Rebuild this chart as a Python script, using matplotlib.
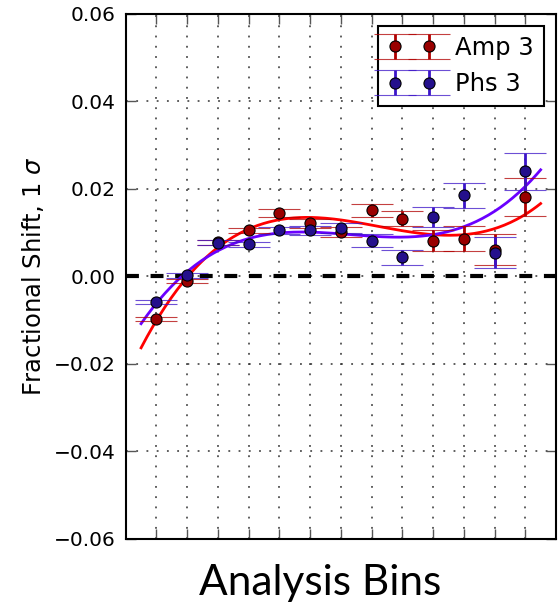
import numpy as np
import matplotlib
matplotlib.use('Agg')
import matplotlib.pyplot as plt

bins = np.arange(13)
amp3 = [-0.0098, -0.0011, 0.0078, 0.0105, 0.0145, 0.0121, 0.0101, 0.0151, 0.0132, 0.0082, 0.0086, 0.0061, 0.0181]
phs3 = [-0.0059, 0.0002, 0.0077, 0.0073, 0.0105, 0.0105, 0.0110, 0.0082, 0.0044, 0.0136, 0.0185, 0.0054, 0.0240]
err = [0.0005, 0.0005, 0.0006, 0.0006, 0.0009, 0.0010, 0.0011, 0.0015, 0.0017, 0.0023, 0.0029, 0.0035, 0.0043]

fig = plt.figure(figsize=(5.58, 6.14), dpi=100)
ax = fig.add_axes([0.2253, 0.1226, 0.7711, 0.8546])

grid_kw = dict(color='#333333', linewidth=1.1, linestyle=(0, (1.2, 5.5)))
ax.grid(True, **grid_kw)
ax.set_axisbelow(True)

ax.axhline(0, color='black', linewidth=3, linestyle=(0, (3.1, 2.8)), zorder=2)

xs = np.linspace(-0.5, 12.5, 200)
w = 1.0 / np.array(err)

series = [
    (amp3, 'Amp 3', '#990000', '#b00000', '#c85050', '#ff0000'),
    (phs3, 'Phs 3', '#24108c', '#3b14c8', '#7a5ce0', '#6a00ff'),
]
for vals, name, fill, ecol, capcol, fitcol in series:
    line, caps, bars = ax.errorbar(bins, vals, yerr=err, fmt='o', color=fill,
                                   mec='black', mew=0.8, ms=8, ecolor=ecol,
                                   elinewidth=2, capsize=15, capthick=2.6,
                                   label=name, zorder=4)
    for c in caps:
        c.set_color(capcol)
        c.set_alpha(0.75)
    # weighted cubic fit through each series
    coef = np.polyfit(bins, vals, 3, w=w)
    ax.plot(xs, np.polyval(coef, xs), color=fitcol, linewidth=2, zorder=3)

ax.set_xlim(-1, 13)
ax.set_ylim(-0.06, 0.06)
ax.set_xticks(bins)
ax.set_xticklabels([])
ax.set_yticks(np.arange(-0.06, 0.061, 0.02))
ax.set_yticklabels(['\u22120.06', '\u22120.04', '\u22120.02', '0.00', '0.02', '0.04', '0.06'])
ax.tick_params(direction='in', length=7, width=1, color='#555555', labelsize=14.5,
               pad=7, top=True, right=True)
for s in ax.spines.values():
    s.set_linewidth(1.5)

ax.set_ylabel('Fractional Shift, 1 $\\sigma$', fontsize=17.5, labelpad=6)

leg = ax.legend(loc='upper right', numpoints=2, fontsize=17.5, fancybox=False,
                framealpha=1, edgecolor='black')
leg.get_frame().set_linewidth(1.5)

fig.text(0.5735, 0.031, 'Analysis Bins', family='Lato', fontsize=30.5,
         ha='center', va='baseline')

fig.savefig('out.png', dpi=100)
